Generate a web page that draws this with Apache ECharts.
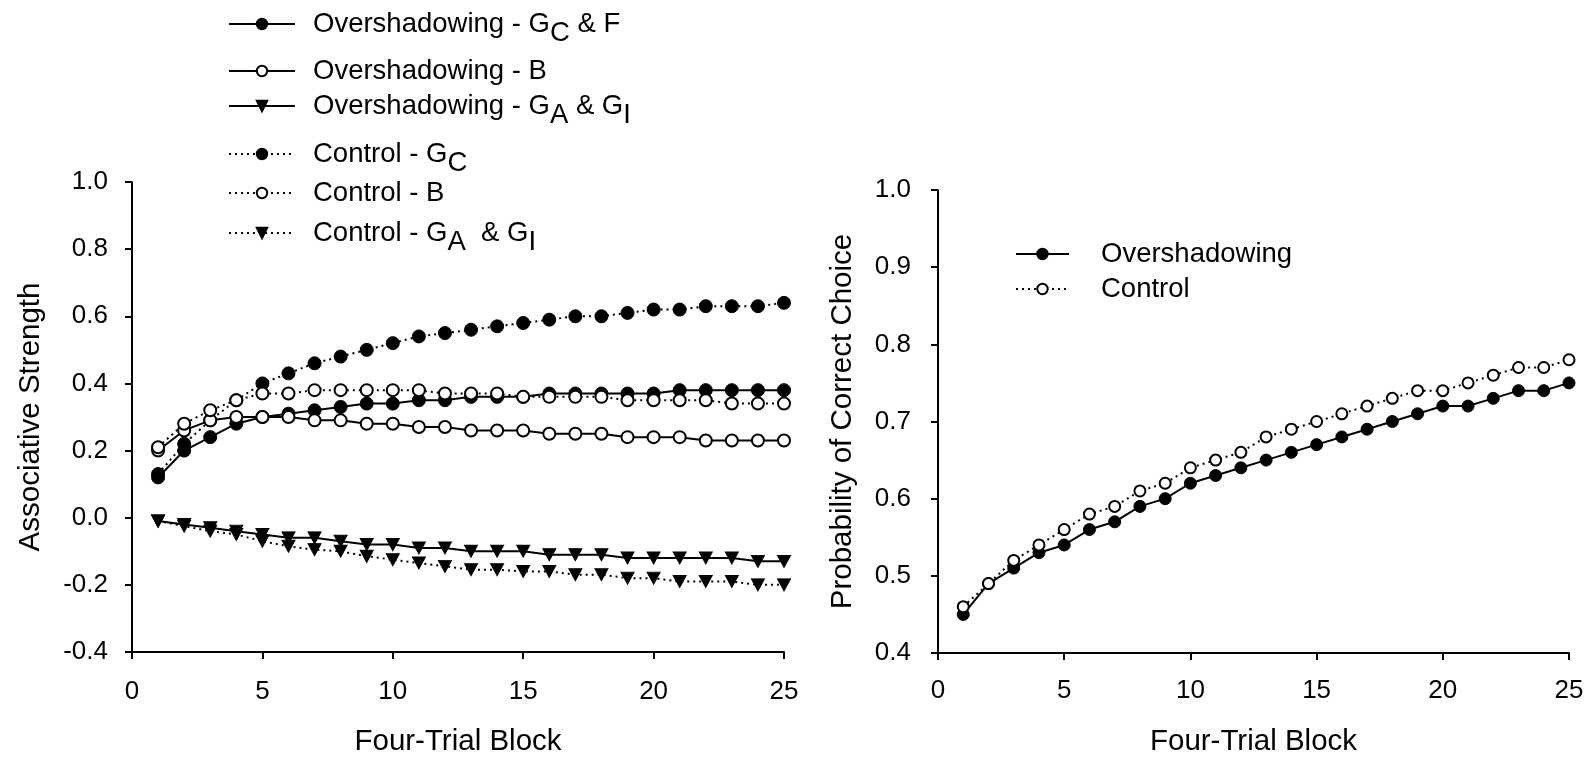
<!DOCTYPE html>
<html>
<head>
<meta charset="utf-8">
<script src="https://cdn.jsdelivr.net/npm/echarts@6/dist/echarts.min.js"></script>
<style>
  html, body { margin: 0; padding: 0; background: #fff; }
  #chart { width: 1592px; height: 762px; }
</style>
</head>
<body>
<div id="chart"></div>
<script>
// Four-trial blocks 1..25
const blocks = [1,2,3,4,5,6,7,8,9,10,11,12,13,14,15,16,17,18,19,20,21,22,23,24,25];

// Left panel: associative strength per cue
const overGcF  = [0.12,0.20,0.24,0.28,0.30,0.31,0.32,0.33,0.34,0.34,0.35,0.35,0.36,0.36,0.36,0.37,0.37,0.37,0.37,0.37,0.38,0.38,0.38,0.38,0.38];
const overB    = [0.20,0.26,0.29,0.30,0.30,0.30,0.29,0.29,0.28,0.28,0.27,0.27,0.26,0.26,0.26,0.25,0.25,0.25,0.24,0.24,0.24,0.23,0.23,0.23,0.23];
const overGaGi = [-0.01,-0.02,-0.03,-0.04,-0.05,-0.06,-0.06,-0.07,-0.08,-0.08,-0.09,-0.09,-0.10,-0.10,-0.10,-0.11,-0.11,-0.11,-0.12,-0.12,-0.12,-0.12,-0.12,-0.13,-0.13];
const ctrlGc   = [0.13,0.22,0.29,0.35,0.40,0.43,0.46,0.48,0.50,0.52,0.54,0.55,0.56,0.57,0.58,0.59,0.60,0.60,0.61,0.62,0.62,0.63,0.63,0.63,0.64];
const ctrlB    = [0.21,0.28,0.32,0.35,0.37,0.37,0.38,0.38,0.38,0.38,0.38,0.37,0.37,0.37,0.36,0.36,0.36,0.36,0.35,0.35,0.35,0.35,0.34,0.34,0.34];
const ctrlGaGi = [-0.01,-0.025,-0.04,-0.05,-0.07,-0.085,-0.095,-0.10,-0.115,-0.125,-0.135,-0.145,-0.155,-0.155,-0.16,-0.16,-0.17,-0.17,-0.18,-0.18,-0.19,-0.19,-0.19,-0.20,-0.20];

// Right panel: probability of correct choice
const overChoice = [0.45,0.49,0.51,0.53,0.54,0.56,0.57,0.59,0.60,0.62,0.63,0.64,0.65,0.66,0.67,0.68,0.69,0.70,0.71,0.72,0.72,0.73,0.74,0.74,0.75];
const ctrlChoice = [0.46,0.49,0.52,0.54,0.56,0.58,0.59,0.61,0.62,0.64,0.65,0.66,0.68,0.69,0.70,0.71,0.72,0.73,0.74,0.74,0.75,0.76,0.77,0.77,0.78];

// Axis ranges and tick steps
const xRange = [0, 25, 5];
const leftYRange = [-0.4, 1.0, 0.2];
const rightYRange = [0.4, 1.0, 0.1];

// Series names
const names = {
  overGcF: 'Overshadowing - GC & F',
  overB: 'Overshadowing - B',
  overGaGi: 'Overshadowing - GA & GI',
  ctrlGc: 'Control - GC',
  ctrlB: 'Control - B',
  ctrlGaGi: 'Control - GA  & GI',
  overChoice: 'Overshadowing',
  ctrlChoice: 'Control'
};

const FONT = '"Liberation Sans", Arial, Helvetica, sans-serif';
const INK = '#000';
const TRI = 'path://M0,0 L12,0 L6,11 Z';

const pairs = (ys) => blocks.map((x, i) => [x, ys[i]]);

const solid = { color: INK, width: 2, type: 'solid' };
const dotted = { color: INK, width: 2, type: [2, 4] };
const filled = { color: INK, borderColor: INK, borderWidth: 1 };
const hollow = { color: '#fff', borderColor: INK, borderWidth: 2 };

function series(name, ys, idx, line, item, symbol, size) {
  return {
    name, type: 'line', xAxisIndex: idx, yAxisIndex: idx,
    data: pairs(ys), symbol, symbolSize: size,
    lineStyle: line, itemStyle: item,
    emphasis: { disabled: true }, animation: false
  };
}

// Legend label text with subscripts
const legendLabels = {
  [names.overGcF]: '{m|Overshadowing - G}{s|C}{m| & F}',
  [names.overB]: '{m|Overshadowing - B}',
  [names.overGaGi]: '{m|Overshadowing - G}{s|A}{m| & G}{s|I}',
  [names.ctrlGc]: '{m|Control - G}{s|C}',
  [names.ctrlB]: '{m|Control - B}',
  [names.ctrlGaGi]: '{m|Control - G}{s|A}{m|  & G}{s|I}',
  [names.overChoice]: '{m|Overshadowing}',
  [names.ctrlChoice]: '{m|Control}'
};

const richText = {
  m: { fontFamily: FONT, fontSize: 27.5, color: INK, lineHeight: 30 },
  s: { fontFamily: FONT, fontSize: 27.5, color: INK, lineHeight: 30, padding: [18, 0, 0, 0] }
};

function legend(name, left, top, width, gap) {
  return {
    data: [name], left, top, orient: 'horizontal', padding: 0,
    itemWidth: width, itemHeight: 13, itemGap: 0,
    selectedMode: false,
    formatter: (n) => legendLabels[n],
    textStyle: { rich: richText, padding: [0, 0, 0, gap] }
  };
}

const axisLine = { show: true, onZero: false, lineStyle: { color: INK, width: 2 } };
const axisTick = { show: true, inside: false, length: 7, lineStyle: { color: INK, width: 2 } };
const labelStyle = { color: INK, fontFamily: FONT, fontSize: 26 };
const nameStyle = { color: INK, fontFamily: FONT, fontSize: 29.5 };

const option = {
  backgroundColor: '#fff',
  animation: false,
  grid: [
    { left: 132, right: 808, top: 182, bottom: 105 },
    { left: 938, right: 23, top: 190, bottom: 102 }
  ],
  xAxis: [0, 1].map(i => ({
    type: 'value', gridIndex: i, min: xRange[0], max: xRange[1], interval: xRange[2],
    name: 'Four-Trial Block', nameLocation: 'middle', nameGap: i === 0 ? 75 : 74, nameTextStyle: nameStyle,
    axisLine, axisTick, splitLine: { show: false },
    axisLabel: { ...labelStyle, margin: i === 0 ? 27 : 25 }
  })),
  yAxis: [
    {
      type: 'value', gridIndex: 0, min: leftYRange[0], max: leftYRange[1], interval: leftYRange[2],
      name: 'Associative Strength', nameLocation: 'middle', nameGap: 86, nameTextStyle: nameStyle,
      axisLine, axisTick, splitLine: { show: false },
      axisLabel: { ...labelStyle, margin: 24, formatter: v => v.toFixed(1) }
    },
    {
      type: 'value', gridIndex: 1, min: rightYRange[0], max: rightYRange[1], interval: rightYRange[2],
      name: 'Probability of Correct Choice', nameLocation: 'middle', nameGap: 80, nameTextStyle: nameStyle,
      axisLine, axisTick, splitLine: { show: false },
      axisLabel: { ...labelStyle, margin: 27, formatter: v => v.toFixed(1) }
    }
  ],
  legend: [
    legend(names.overGcF, 228, 1, 66, 13),
    legend(names.overB, 228, 57, 66, 13),
    legend(names.overGaGi, 228, 83, 66, 13),
    legend(names.ctrlGc, 228, 131, 66, 13),
    legend(names.ctrlB, 228, 179, 66, 13),
    legend(names.ctrlGaGi, 228, 210, 66, 13),
    legend(names.overChoice, 1015, 240, 53, 27),
    legend(names.ctrlChoice, 1015, 275, 53, 27)
  ],
  series: [
    series(names.overGaGi, overGaGi, 0, solid, filled, TRI, [13, 12]),
    series(names.ctrlGaGi, ctrlGaGi, 0, dotted, filled, TRI, [13, 12]),
    series(names.overGcF, overGcF, 0, solid, filled, 'circle', 13),
    series(names.ctrlGc, ctrlGc, 0, dotted, filled, 'circle', 13),
    series(names.overB, overB, 0, solid, hollow, 'circle', 12),
    series(names.ctrlB, ctrlB, 0, dotted, hollow, 'circle', 12),
    series(names.overChoice, overChoice, 1, solid, filled, 'circle', 12),
    series(names.ctrlChoice, ctrlChoice, 1, dotted, hollow, 'circle', 11)
  ]
};

const chart = echarts.init(document.getElementById('chart'), null, { renderer: 'canvas' });
chart.setOption(option);
</script>
</body>
</html>
